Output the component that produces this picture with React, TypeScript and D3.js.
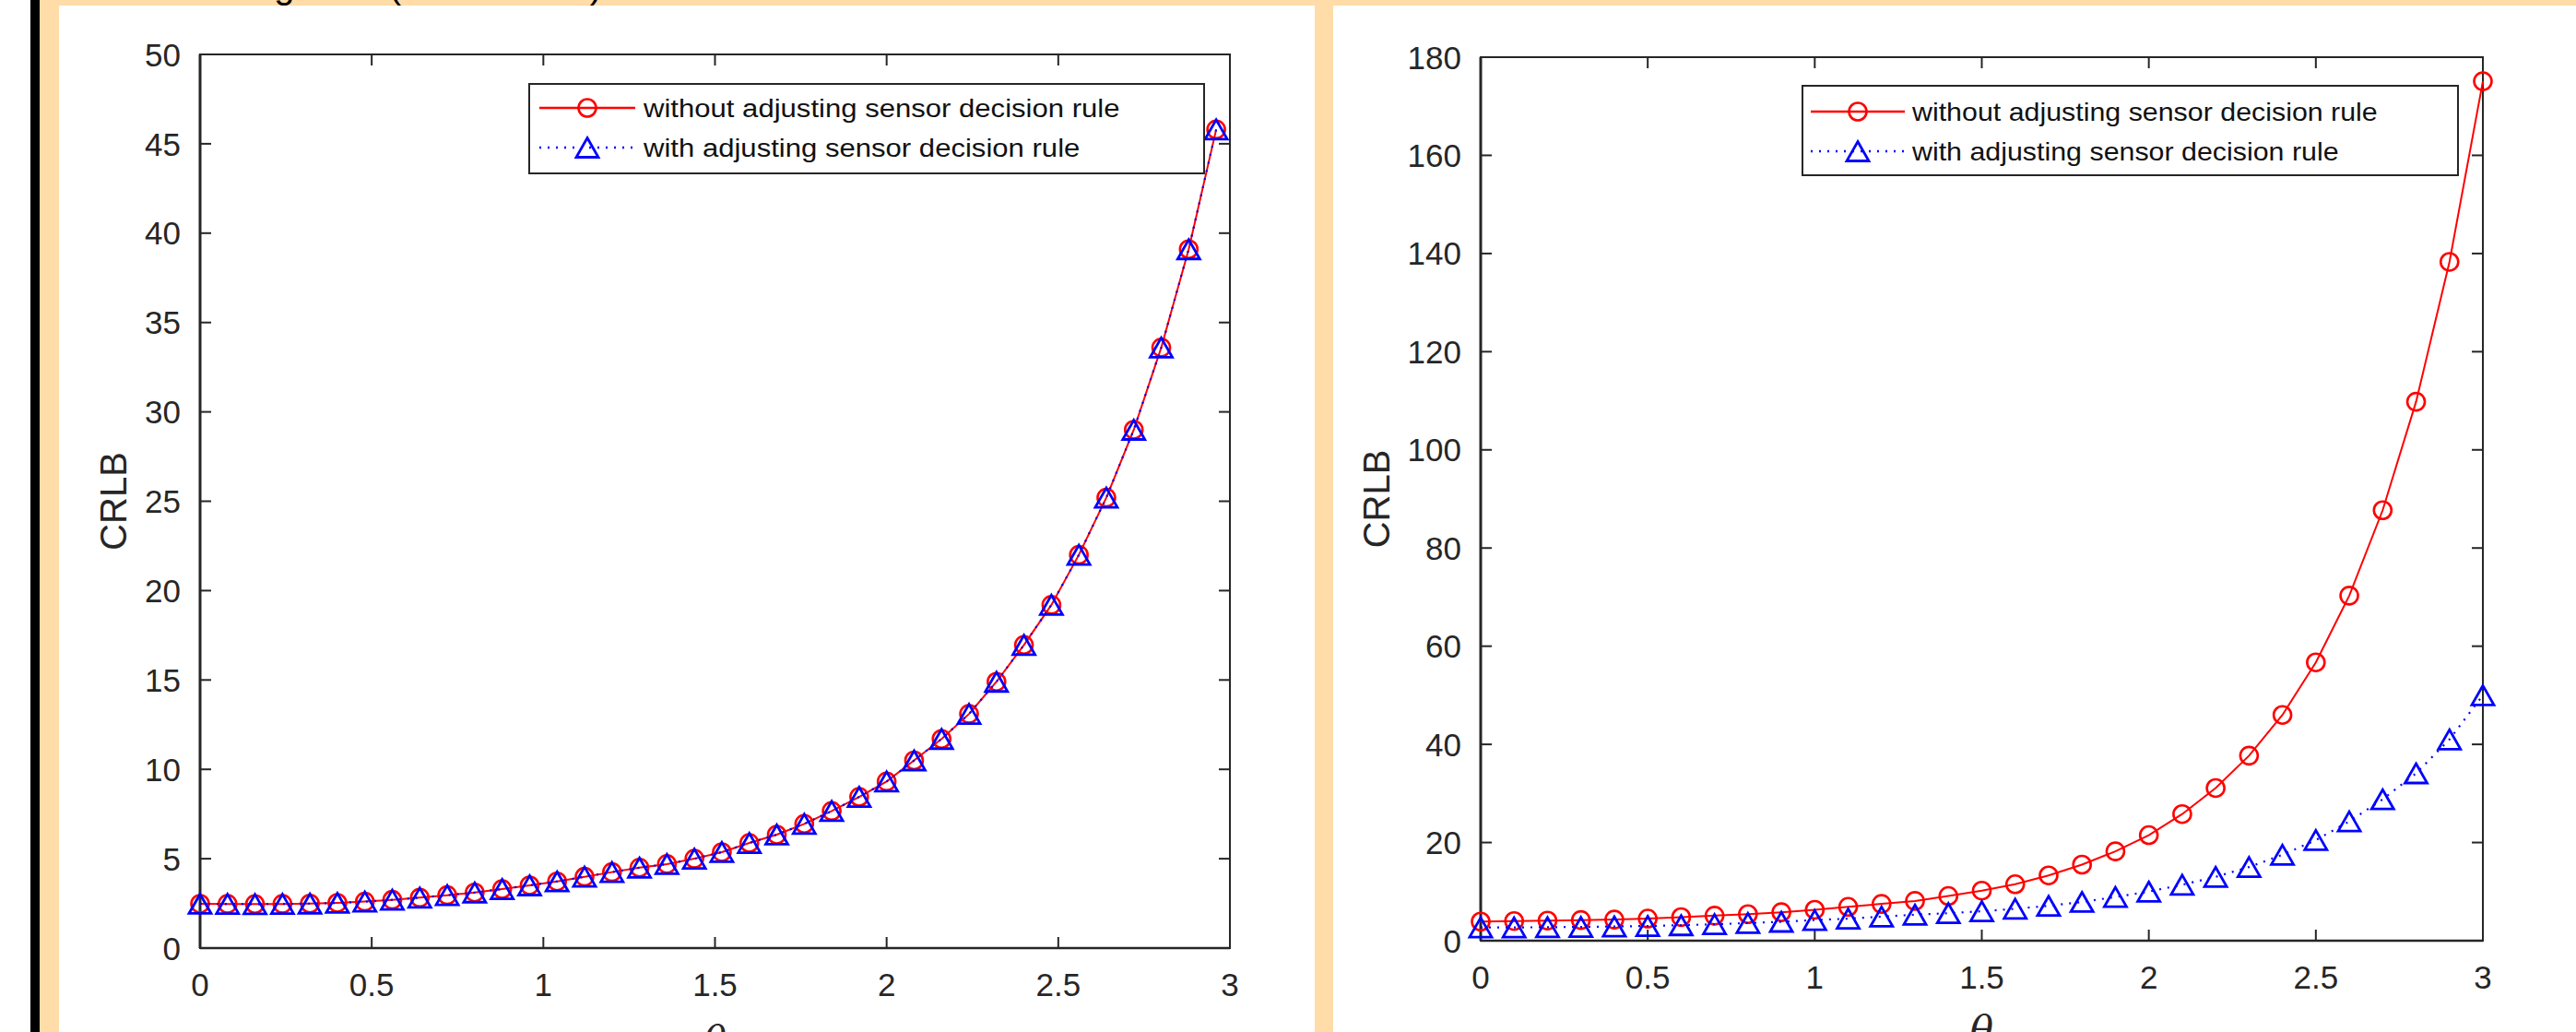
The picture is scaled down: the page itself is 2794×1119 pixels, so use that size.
import React from 'react';
import * as d3 from 'd3';

// ---------- data ----------
const leftTheta = [0, 0.08, 0.16, 0.24, 0.32, 0.4, 0.48, 0.56, 0.64, 0.72, 0.8, 0.88, 0.96, 1.04, 1.12, 1.2, 1.28, 1.36, 1.44, 1.52, 1.6, 1.68, 1.76, 1.84, 1.92, 2.0, 2.08, 2.16, 2.24, 2.32, 2.4, 2.48, 2.56, 2.64, 2.72, 2.8, 2.88, 2.96];
const leftWithout = [2.48, 2.47, 2.46, 2.47, 2.49, 2.53, 2.6, 2.7, 2.82, 2.96, 3.11, 3.3, 3.51, 3.73, 3.99, 4.25, 4.5, 4.7, 5.0, 5.37, 5.88, 6.35, 6.95, 7.67, 8.46, 9.32, 10.5, 11.7, 13.1, 14.9, 16.96, 19.2, 22.0, 25.2, 29.0, 33.6, 39.1, 45.8];
const leftWith = [2.48, 2.47, 2.46, 2.47, 2.49, 2.53, 2.6, 2.7, 2.82, 2.96, 3.11, 3.3, 3.51, 3.73, 3.99, 4.25, 4.5, 4.7, 5.0, 5.37, 5.88, 6.35, 6.95, 7.67, 8.46, 9.32, 10.5, 11.7, 13.1, 14.9, 16.96, 19.2, 22.0, 25.2, 29.0, 33.6, 39.1, 45.8];

const rightTheta = [0, 0.1, 0.2, 0.3, 0.4, 0.5, 0.6, 0.7, 0.8, 0.9, 1.0, 1.1, 1.2, 1.3, 1.4, 1.5, 1.6, 1.7, 1.8, 1.9, 2.0, 2.1, 2.2, 2.3, 2.4, 2.5, 2.6, 2.7, 2.8, 2.9, 3.0];
const rightWithout = [3.9, 4.0, 4.1, 4.2, 4.3, 4.5, 4.8, 5.1, 5.4, 5.8, 6.3, 6.9, 7.5, 8.1, 9.1, 10.2, 11.5, 13.3, 15.5, 18.2, 21.5, 25.8, 31.1, 37.7, 46.0, 56.7, 70.3, 87.7, 109.8, 138.3, 175.1];
const rightWith = [2.7, 2.7, 2.75, 2.8, 2.9, 3.0, 3.15, 3.35, 3.6, 3.85, 4.2, 4.5, 4.9, 5.3, 5.6, 6.0, 6.5, 7.1, 7.9, 8.9, 10.0, 11.4, 13.0, 15.0, 17.5, 20.5, 24.3, 28.8, 34.1, 41.0, 50.0];

const xTicks = [0, 0.5, 1, 1.5, 2, 2.5, 3];
const xTickLabels = ['0', '0.5', '1', '1.5', '2', '2.5', '3'];
const leftYTicks = [0, 5, 10, 15, 20, 25, 30, 35, 40, 45, 50];
const rightYTicks = [0, 20, 40, 60, 80, 100, 120, 140, 160, 180];
const legendLabels = ['without adjusting sensor decision rule', 'with adjusting sensor decision rule'];
const yLabel = 'CRLB';
const xLabel = 'θ';
const caption = 'Figure 3 (color online)';

// ---------- style ----------
const AX = '#262626';
const RED = '#ff0000';
const BLUE = '#0000ff';
const PEACH = '#FFDCA8';
const FONT = '"Liberation Sans", Arial, Helvetica, sans-serif';

type LegendLayout = {
  x0: number; x1: number; y0: number; y1: number;
  row1: number; row2: number; lx0: number; lx1: number; tx: number; sx: number;
};

type PanelProps = {
  x0: number; x1: number; y0: number; y1: number;
  yMax: number; yTicks: number[];
  theta: number[]; s1: number[]; s2: number[];
  legend: LegendLayout;
  yLabelX: number;
  xLabelY: number;
};

const tri = (cx: number, cy: number) =>
  `M${cx},${cy - 10.5}L${cx + 12},${cy + 10.5}L${cx - 12},${cy + 10.5}Z`;

function Panel(p: PanelProps) {
  const x = d3.scaleLinear().domain([0, 3]).range([p.x0, p.x1]);
  const y = d3.scaleLinear().domain([0, p.yMax]).range([p.y1, p.y0]);
  const line = d3.line<number>().x((_, i) => x(p.theta[i])).y((d) => y(d));
  const tl = 12;
  const L = p.legend;
  return (
    <g>
      {/* axes box */}
      <rect x={p.x0} y={p.y0} width={p.x1 - p.x0} height={p.y1 - p.y0} fill="white" stroke={AX} strokeWidth={2} />
      <line x1={p.x0} x2={p.x0} y1={p.y0} y2={p.y1} stroke={AX} strokeWidth={3} />
      <line x1={p.x0} x2={p.x1} y1={p.y1} y2={p.y1} stroke={AX} strokeWidth={2.5} />
      {/* x ticks */}
      {xTicks.map((t, i) => (
        <g key={'xt' + i}>
          <line x1={x(t)} x2={x(t)} y1={p.y1} y2={p.y1 - tl} stroke={AX} strokeWidth={2} />
          <line x1={x(t)} x2={x(t)} y1={p.y0} y2={p.y0 + tl} stroke={AX} strokeWidth={2} />
          <text x={x(t)} y={p.y1 + 52} textAnchor="middle" fontFamily={FONT} fontSize={35} fill={AX}>
            {xTickLabels[i]}
          </text>
        </g>
      ))}
      {/* y ticks */}
      {p.yTicks.map((t, i) => (
        <g key={'yt' + i}>
          <line x1={p.x0} x2={p.x0 + tl} y1={y(t)} y2={y(t)} stroke={AX} strokeWidth={2} />
          <line x1={p.x1} x2={p.x1 - tl} y1={y(t)} y2={y(t)} stroke={AX} strokeWidth={2} />
          <text x={p.x0 - 21} y={y(t)} dy="0.36em" textAnchor="end" fontFamily={FONT} fontSize={35} fill={AX}>
            {String(t)}
          </text>
        </g>
      ))}
      {/* y label */}
      <text transform={`translate(${p.yLabelX},${(p.y0 + p.y1) / 2}) rotate(-90)`} textAnchor="middle" dy="0.36em"
        fontFamily={FONT} fontSize={40} fill={AX}>{yLabel}</text>
      {/* x label */}
      <text x={(p.x0 + p.x1) / 2} y={p.xLabelY} textAnchor="middle" fontFamily='"DejaVu Serif", "Liberation Serif", serif'
        fontStyle="italic" fontSize={42} fill={AX}>{xLabel}</text>

      {/* series 1 */}
      <path d={line(p.s1) || ''} fill="none" stroke={RED} strokeWidth={2} />
      {p.s1.map((v, i) => (
        <circle key={'c' + i} cx={x(p.theta[i])} cy={y(v)} r={9.5} fill="none" stroke={RED} strokeWidth={2.6} />
      ))}
      {/* series 2 */}
      <path d={line(p.s2) || ''} fill="none" stroke={BLUE} strokeWidth={2.2} strokeDasharray="2,7" />
      {p.s2.map((v, i) => (
        <path key={'t' + i} d={tri(x(p.theta[i]), y(v))} fill="none" stroke={BLUE} strokeWidth={2.8} strokeLinejoin="miter" />
      ))}

      {/* legend */}
      <rect x={L.x0} y={L.y0} width={L.x1 - L.x0} height={L.y1 - L.y0} fill="white" stroke={AX} strokeWidth={2} />
      <line x1={L.lx0} x2={L.lx1} y1={L.row1} y2={L.row1} stroke={RED} strokeWidth={2.5} />
      <circle cx={(L.lx0 + L.lx1) / 2} cy={L.row1} r={9.5} fill="none" stroke={RED} strokeWidth={2.6} />
      <line x1={L.lx0} x2={L.lx1} y1={L.row2} y2={L.row2} stroke={BLUE} strokeWidth={2.5} strokeDasharray="2,7" />
      <path d={tri((L.lx0 + L.lx1) / 2, L.row2)} fill="none" stroke={BLUE} strokeWidth={2.8} />
      {legendLabels.map((s, i) => (
        <text key={'lg' + i} transform={`translate(${L.tx},${(i === 0 ? L.row1 : L.row2) + 10}) scale(${L.sx},1)`}
          fontFamily={FONT} fontSize={28} fill="#111">{s}</text>
      ))}
    </g>
  );
}

export default function App() {
  const W = 2794;
  const H = 1119;
  return (
    <svg width={W} height={H} style={{ position: 'absolute', left: 0, top: 0, display: 'block' }}
      xmlns="http://www.w3.org/2000/svg">
      <rect x={0} y={0} width={W} height={H} fill="white" />
      {/* page decorations */}
      <rect x={43} y={0} width={W - 43} height={H} fill={PEACH} />
      <rect x={33} y={0} width={10} height={H} fill="black" />
      <rect x={64} y={6} width={1426 - 64} height={H - 6} fill="white" />
      <rect x={1446} y={6} width={W - 1446} height={H - 6} fill="white" />
      <text x={264} y={-2} fontFamily={FONT} fontSize={40} fill="black">{caption}</text>

      <Panel x0={217} x1={1334} y0={59} y1={1028} yMax={50} yTicks={leftYTicks}
        theta={leftTheta} s1={leftWithout} s2={leftWith}
        yLabelX={123} xLabelY={1143}
        legend={{ x0: 574, x1: 1306, y0: 91, y1: 188, row1: 117, row2: 160, lx0: 585, lx1: 689, tx: 698, sx: 1.11 }} />
      <Panel x0={1606} x1={2693} y0={62} y1={1020} yMax={180} yTicks={rightYTicks}
        theta={rightTheta} s1={rightWithout} s2={rightWith}
        yLabelX={1493} xLabelY={1132}
        legend={{ x0: 1955, x1: 2666, y0: 93, y1: 190, row1: 121, row2: 164, lx0: 1964, lx1: 2066, tx: 2074, sx: 1.085 }} />
    </svg>
  );
}
